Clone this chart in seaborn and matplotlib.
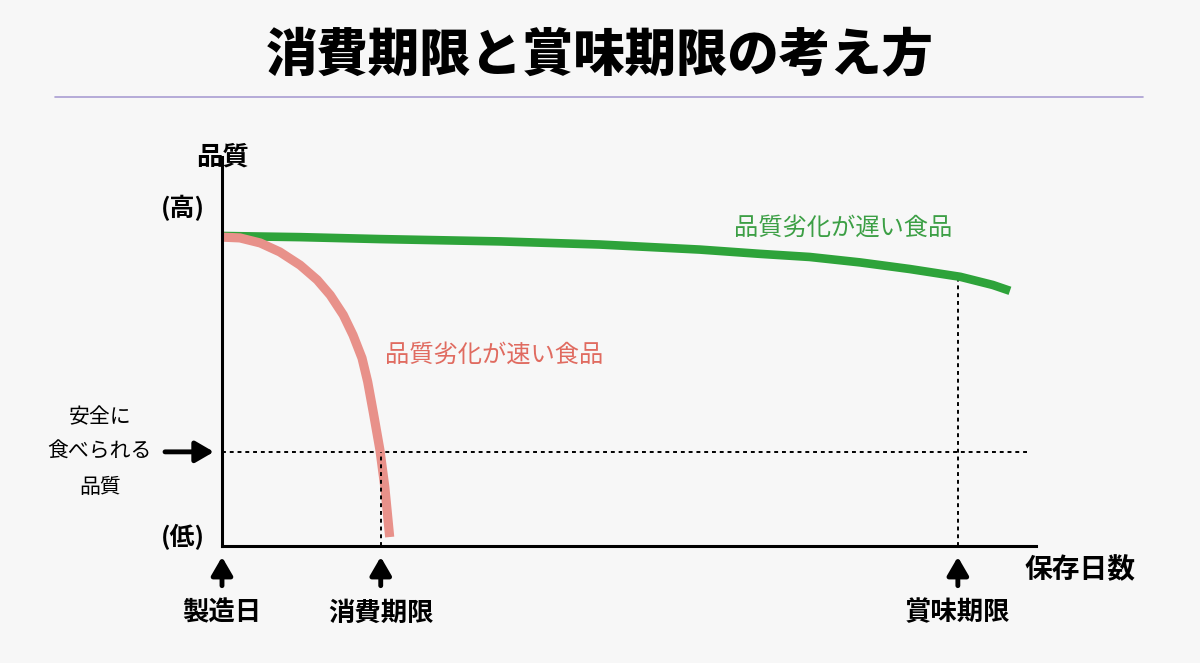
import matplotlib
matplotlib.use("Agg")
import matplotlib.pyplot as plt
import seaborn as sns
import pandas as pd
from matplotlib.lines import Line2D

sns.set_theme(style="white")
plt.rcParams['font.family'] = ['Noto Sans CJK JP', 'DejaVu Sans']
plt.rcParams['text.color'] = 'black'

# --- data (x: storage days 0-100, y: quality 0-100) ---
fast_x = [0.0, 2.2, 4.7, 7.1, 9.6, 11.7, 13.3, 14.9, 16.1, 17.2, 17.9, 18.6, 19.4, 20.0, 20.6]
fast_y = [79.4, 79.2, 77.9, 75.6, 72.2, 68.4, 64.5, 59.4, 54.2, 48.3, 42.2, 34.2, 24.7, 15.2, 2.3]
slow_x = [0.0, 9.6, 19.4, 34.2, 46.4, 58.7, 66.1, 72.2, 78.4, 84.5, 90.7, 94.7, 96.8]
slow_y = [79.7, 79.4, 78.9, 78.3, 77.5, 76.2, 75.1, 74.3, 72.9, 71.2, 69.2, 67.1, 65.6]

safe_quality = 24.2
use_by_day = 19.5
best_before_day = 90.4
best_before_quality = 69.4

title = "消費期限と賞味期限の考え方"
y_label = "品質"
y_high = "(高)"
y_low = "(低)"
x_label = "保存日数"
safe_label = "安全に\n食べられる\n品質"
bottom_labels = ["製造日", "消費期限", "賞味期限"]
bottom_x = [0.0, use_by_day, best_before_day]
fast_label = "品質劣化が速い食品"
slow_label = "品質劣化が遅い食品"

bg = "#f7f7f7"
red_line = "#e8918a"
red_text = "#e06b60"
green_line = "#2ea33a"
green_text = "#3c9f45"

fig = plt.figure(figsize=(12, 6.63), dpi=100, facecolor=bg)
ax = fig.add_axes([222/1200, 117/663, 814/1200, 389/663])
ax.set_facecolor(bg)

df_fast = pd.DataFrame({"day": fast_x, "quality": fast_y})
df_slow = pd.DataFrame({"day": slow_x, "quality": slow_y})
sns.lineplot(data=df_slow, x="day", y="quality", ax=ax, color=green_line, lw=6.2,
             sort=False, solid_capstyle="butt", solid_joinstyle="round", zorder=3)
sns.lineplot(data=df_fast, x="day", y="quality", ax=ax, color=red_line, lw=6.6,
             sort=False, solid_capstyle="butt", solid_joinstyle="round", zorder=4)

ax.set_xlim(0, 100)
ax.set_ylim(0, 100)
ax.set_xticks([])
ax.set_yticks([])
ax.set_xlabel("")
ax.set_ylabel("")
for s in ["top", "right"]:
    ax.spines[s].set_visible(False)
for s in ["left", "bottom"]:
    ax.spines[s].set_color("black")
    ax.spines[s].set_linewidth(2.2)
    ax.spines[s].set_zorder(5)

dot = (0, (2, 2))
ax.plot([0, 99.3], [safe_quality, safe_quality], color="black", lw=1.4, ls=dot, zorder=2)
ax.plot([use_by_day, use_by_day], [0, safe_quality], color="black", lw=1.4, ls=dot, zorder=5)
ax.plot([best_before_day, best_before_day], [0, best_before_quality], color="black", lw=1.4, ls=dot, zorder=2)

arrow_kw = dict(arrowstyle="-|>,head_length=0.55,head_width=0.32", lw=3.5, color="black",
                shrinkA=0, shrinkB=0, mutation_scale=20)
for bx, lab in zip(bottom_x, bottom_labels):
    ax.annotate("", xy=(bx, -2.8), xytext=(bx, -10.2), arrowprops=arrow_kw, annotation_clip=False)
    ax.text(bx, -17.2, lab, ha="center", va="center", fontsize=19, fontweight="bold", clip_on=False)

ax.annotate("", xy=(-1.0, safe_quality), xytext=(-7.0, safe_quality), arrowprops=arrow_kw,
            annotation_clip=False)
ax.text(-15.0, safe_quality, safe_label, ha="center", va="center", fontsize=15,
        linespacing=1.75, clip_on=False)

ax.text(0, 100, y_label, ha="center", va="center", fontsize=19, fontweight="bold", clip_on=False)
ax.text(-2.1, 87.0, y_high, ha="right", va="center", fontsize=18, fontweight="bold", clip_on=False)
ax.text(-2.1, 2.3, y_low, ha="right", va="center", fontsize=18, fontweight="bold", clip_on=False)
ax.text(98.6, -6.2, x_label, ha="left", va="center", fontsize=20, fontweight="bold", clip_on=False)

ax.text(20.0, 49.1, fast_label, ha="left", va="center", fontsize=17.5, color=red_text)
ax.text(62.9, 81.7, slow_label, ha="left", va="center", fontsize=17.5, color=green_text)

fig.text(0.5, 1 - 55/663, title, ha="center", va="center", fontsize=37, fontweight="heavy")
fig.add_artist(Line2D([55/1200, 1143/1200], [1 - 97/663, 1 - 97/663], color="#a99ed2", lw=1.2))

fig.savefig("out.png", dpi=100, facecolor=bg)
